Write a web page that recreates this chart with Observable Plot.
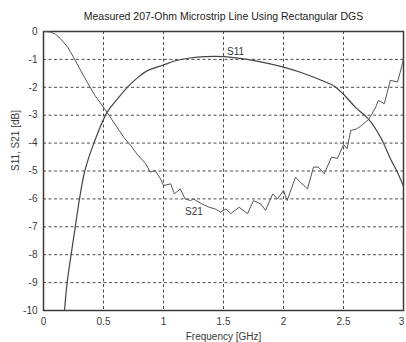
<!DOCTYPE html>
<html>
<head>
<meta charset="utf-8">
<script src="https://cdn.jsdelivr.net/npm/d3@7"></script>
<script src="https://cdn.jsdelivr.net/npm/@observablehq/plot@0.6"></script>
<style>
  html, body { margin: 0; padding: 0; background: #fff; }
  #chart svg { display: block; }
</style>
</head>
<body>
<div id="chart"></div>
<script>
const title = "Measured 207-Ohm Microstrip Line Using Rectangular DGS";
const xLabel = "Frequency [GHz]";
const yLabel = "S11, S21 [dB]";
const xTicks = [0, 0.5, 1, 1.5, 2, 2.5, 3];
const yTicks = [0, -1, -2, -3, -4, -5, -6, -7, -8, -9, -10];

const s11Freq = [0.175, 0.197, 0.23, 0.265, 0.30, 0.344, 0.42, 0.53, 0.62, 0.71, 0.8, 0.86, 1.0, 1.1, 1.22, 1.35, 1.5, 1.65, 1.8, 1.975, 2.14, 2.3, 2.42, 2.5, 2.6, 2.71, 2.81, 2.89, 2.95, 3.0];
const s11Db   = [-10, -9, -8, -7, -6, -5, -4, -2.9, -2.4, -1.95, -1.6, -1.42, -1.2, -1.05, -0.95, -0.9, -0.9, -0.97, -1.08, -1.25, -1.46, -1.72, -1.95, -2.25, -2.72, -3.15, -3.8, -4.55, -5.05, -5.55];

const s21Freq = [0, 0.06, 0.1, 0.14, 0.2, 0.25, 0.34, 0.43, 0.53, 0.67, 0.73, 0.78, 0.85, 0.89, 0.93, 0.975, 1.0, 1.06, 1.09, 1.14, 1.18, 1.225, 1.25, 1.32, 1.38, 1.43, 1.475, 1.52, 1.56, 1.63, 1.70, 1.75, 1.81, 1.85, 1.91, 1.95, 2.0, 2.03, 2.1, 2.14, 2.2, 2.25, 2.29, 2.34, 2.4, 2.45, 2.5, 2.53, 2.56, 2.61, 2.65, 2.71, 2.77, 2.79, 2.84, 2.89, 2.95, 2.98, 3.0];
const s21Db   = [0, -0.02, -0.1, -0.25, -0.55, -0.92, -1.64, -2.3, -2.9, -3.8, -4.1, -4.4, -4.73, -5.04, -4.98, -5.28, -5.52, -5.46, -5.82, -5.64, -6.0, -6.06, -6.0, -6.18, -6.3, -6.36, -6.47, -6.36, -6.53, -6.3, -6.53, -6.06, -6.18, -6.41, -5.82, -6.0, -5.7, -6.06, -5.22, -5.4, -5.64, -4.86, -4.86, -5.1, -4.5, -4.55, -4.05, -4.2, -3.55, -3.49, -3.37, -3.15, -2.7, -2.47, -2.59, -1.75, -1.81, -1.34, -0.98];

const curveLabels = ["S11", "S21"];
const labelFreq = [1.53, 1.18];
const labelDb = [-0.72, -6.45];

const s11 = s11Freq.map((f, i) => ({f, db: s11Db[i]}));
const s21 = s21Freq.map((f, i) => ({f, db: s21Db[i]}));
const labels = curveLabels.map((t, i) => ({t, f: labelFreq[i], db: labelDb[i]}));

const ink = "#3a3a3a";
const fmt = d => String(d);

const chart = Plot.plot({
  width: 406,
  height: 342,
  marginLeft: 43,
  marginRight: 3,
  marginTop: 31,
  marginBottom: 32,
  style: {fontFamily: "'Liberation Sans', Arial, sans-serif", fontSize: "10px", color: ink, background: "#fff", overflow: "visible"},
  x: {domain: [0, 3]},
  y: {domain: [-10, 0]},
  marks: [
    Plot.gridX(xTicks.slice(1, -1), {stroke: ink, strokeOpacity: 0.9, strokeWidth: 1, strokeDasharray: "3,2.5"}),
    Plot.gridY(yTicks.slice(1, -1), {stroke: ink, strokeOpacity: 0.9, strokeWidth: 1, strokeDasharray: "3,2.5"}),
    Plot.frame({stroke: ink, strokeWidth: 1.5}),
    Plot.line(s11, {x: "f", y: "db", stroke: "#444", strokeWidth: 1.2, curve: "catmull-rom"}),
    Plot.line(s21, {x: "f", y: "db", stroke: "#555", strokeWidth: 1}),
    Plot.text(labels, {x: "f", y: "db", text: "t", textAnchor: "start", fill: ink, fontSize: 10}),
    Plot.axisX(xTicks.slice(0, -1), {tickSize: 0, tickPadding: 7, label: null, fontSize: 10, fill: ink, tickFormat: fmt}),
    Plot.axisX(xTicks.slice(-1), {tickSize: 0, tickPadding: 7, label: null, fontSize: 10, fill: ink, tickFormat: fmt, dx: -2}),
    Plot.axisY(yTicks, {tickSize: 0, tickPadding: 6, label: null, fontSize: 10, fill: ink, tickFormat: fmt}),
    Plot.text([title], {frameAnchor: "top", dy: -19, fontSize: 10.5, fill: "#222"}),
    Plot.text([xLabel], {frameAnchor: "bottom", dy: 29, fontSize: 10, fill: ink}),
    Plot.text([yLabel], {frameAnchor: "left", dx: -28, rotate: -90, fontSize: 10, fill: ink})
  ]
});
document.getElementById("chart").appendChild(chart);
</script>
</body>
</html>
